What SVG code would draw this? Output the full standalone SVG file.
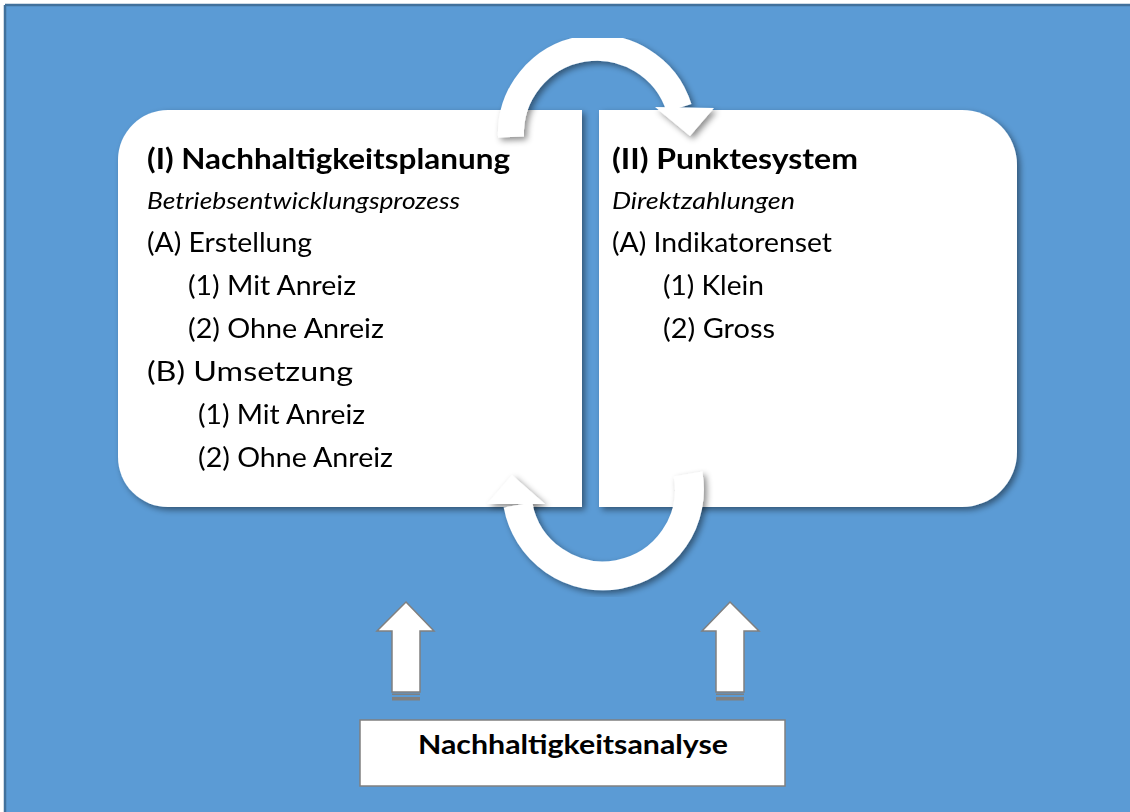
<svg xmlns="http://www.w3.org/2000/svg" width="1130" height="812" viewBox="0 0 1130 812">
<defs>
<filter id="sh" x="-10%" y="-10%" width="130%" height="130%">
<feDropShadow dx="3" dy="3" stdDeviation="3" flood-color="#000" flood-opacity="0.45"/>
</filter>
<style>
.t{font-family:Lato,"Noto Sans","DejaVu Sans",sans-serif;font-size:26px;fill:#000}
.b{font-weight:bold;font-size:28px}
.i{font-style:italic;font-size:24px}
.arrow{fill:#fff;stroke:#808080;stroke-width:1.5}
.band{fill:none;stroke:#fff;stroke-linecap:butt}
</style>
</defs>
<rect x="0" y="0" width="1130" height="812" fill="#fff"/>
<rect x="5" y="5" width="1125" height="807" fill="#5B9BD5"/>
<path d="M5,5 H1130" stroke="#41719C" stroke-width="2.5"/>
<path d="M5,5 V812" stroke="#41719C" stroke-width="2.5"/>

<g id="box-planung" filter="url(#sh)">
<path d="M582,110 L168,110 A50,50 0 0 0 118,160 L118,457 A50,50 0 0 0 168,507 L582,507 Z" fill="#fff"/>
<text class="t b" x="147" y="169" textLength="363" lengthAdjust="spacingAndGlyphs">(I) Nachhaltigkeitsplanung</text>
<text class="t i" x="147" y="209" textLength="313" lengthAdjust="spacingAndGlyphs">Betriebsentwicklungsprozess</text>
<text class="t" x="147" y="252" textLength="165" lengthAdjust="spacingAndGlyphs">(A) Erstellung</text>
<text class="t" x="188" y="295" textLength="168" lengthAdjust="spacingAndGlyphs">(1) Mit Anreiz</text>
<text class="t" x="188" y="338" textLength="196" lengthAdjust="spacingAndGlyphs">(2) Ohne Anreiz</text>
<text class="t" x="147" y="381" textLength="206" lengthAdjust="spacingAndGlyphs">(B) Umsetzung</text>
<text class="t" x="198" y="424" textLength="167" lengthAdjust="spacingAndGlyphs">(1) Mit Anreiz</text>
<text class="t" x="198" y="467" textLength="195" lengthAdjust="spacingAndGlyphs">(2) Ohne Anreiz</text>
</g>

<g id="box-punktesystem" filter="url(#sh)">
<path d="M599,110 L962,110 A55,55 0 0 1 1017,165 L1017,452 A55,55 0 0 1 962,507 L599,507 Z" fill="#fff"/>
<text class="t b" x="612" y="169" textLength="246" lengthAdjust="spacingAndGlyphs">(II) Punktesystem</text>
<text class="t i" x="612" y="209" textLength="183" lengthAdjust="spacingAndGlyphs">Direktzahlungen</text>
<text class="t" x="612" y="252" textLength="220" lengthAdjust="spacingAndGlyphs">(A) Indikatorenset</text>
<text class="t" x="663" y="295" textLength="101" lengthAdjust="spacingAndGlyphs">(1) Klein</text>
<text class="t" x="663" y="338" textLength="112" lengthAdjust="spacingAndGlyphs">(2) Gross</text>
</g>

<g id="connectors">
<g id="cycle-top" filter="url(#sh)">
<path class="band" d="M511,137 A86,86 0 0 1 679,108" stroke-width="26"/>
<polygon points="655,107 714,108 690,136" fill="#fff"/>
</g>
<g id="cycle-bottom" filter="url(#sh)">
<path class="band" d="M688,474 A86,86 0 0 1 518,505" stroke-width="29"/>
<polygon points="487,504 545,504 512,475" fill="#fff"/>
</g>
<g id="up-left">
<polygon class="arrow" points="406,602 434,631 420,631 420,692 392,692 392,631 377,631"/>
<rect x="392" y="693.5" width="28" height="1.5" fill="#808080"/>
<rect x="392" y="697" width="28" height="3.5" fill="#808080"/>
</g>
<g id="up-right">
<polygon class="arrow" points="730,602 759,631 744,631 744,692 716,692 716,631 702,631"/>
<rect x="716" y="693.5" width="28" height="1.5" fill="#808080"/>
<rect x="716" y="697" width="28" height="3.5" fill="#808080"/>
</g>
</g>

<g id="box-analyse">
<rect x="360" y="720" width="425" height="66" fill="#fff" stroke="#808080" stroke-width="1.5"/>
<text class="t" x="418" y="754" font-weight="bold" font-size="28" textLength="310" lengthAdjust="spacingAndGlyphs">Nachhaltigkeitsanalyse</text>
</g>
</svg>
